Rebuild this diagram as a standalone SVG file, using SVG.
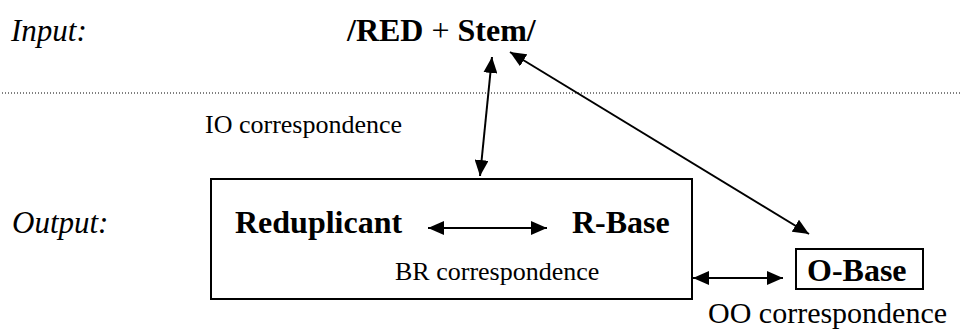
<svg xmlns="http://www.w3.org/2000/svg" width="962" height="329" viewBox="0 0 962 329">
<style>
text{font-family:"Liberation Serif","Times New Roman",serif;fill:#000}
.it{font-style:italic;font-size:31px}
.bd{font-weight:bold;font-size:32px}
.lb{font-size:26px}
.lb2{font-size:30px}
.box{fill:none;stroke:#000;stroke-width:2}
.con{stroke:#000;stroke-width:2;fill:none;marker-start:url(#ah);marker-end:url(#ah)}
</style>
<defs>
<marker id="ah" markerUnits="userSpaceOnUse" markerWidth="17" markerHeight="14" refX="16" refY="7" orient="auto-start-reverse">
<path d="M0,0 L16,7 L0,14 Z" fill="#000"/>
</marker>
</defs>
<g id="labels">
<text class="it" x="11" y="41">Input:</text>
<text class="it" x="12" y="233">Output:</text>
</g>
<line x1="2" y1="93" x2="962" y2="93" stroke="#000" stroke-width="1" stroke-dasharray="1 2"/>
<g id="input">
<text class="bd" x="347" y="41">/RED <tspan font-weight="normal">+</tspan> Stem/</text>
</g>
<g id="output-box">
<rect class="box" x="211" y="179" width="481" height="120"/>
</g>
<g id="reduplicant">
<text class="bd" x="235" y="233">Reduplicant</text>
</g>
<g id="r-base">
<text class="bd" x="572" y="233">R-Base</text>
</g>
<g id="o-base">
<rect class="box" x="796" y="249" width="127" height="40"/>
<text class="bd" x="807" y="281">O-Base</text>
</g>
<g id="connectors">
<line class="con" x1="480" y1="176" x2="492" y2="57"/>
<line class="con" x1="809" y1="234" x2="510" y2="52"/>
<line class="con" x1="428" y1="228" x2="547" y2="228"/>
<line class="con" x1="693" y1="278" x2="783" y2="278"/>
</g>
<g id="connector-labels">
<text class="lb" x="205" y="133">IO correspondence</text>
<text class="lb" x="395" y="280">BR correspondence</text>
<text class="lb2" x="708" y="323">OO correspondence</text>
</g>
</svg>
